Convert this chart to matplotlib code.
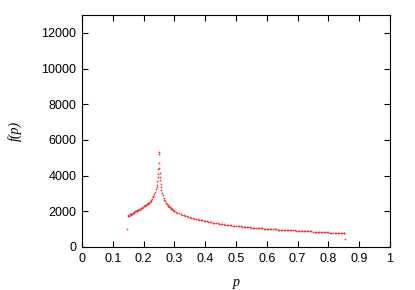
import matplotlib
matplotlib.use("Agg")
import matplotlib.pyplot as plt

p = [0.148, 0.150, 0.152, 0.155, 0.158, 0.160, 0.163, 0.165, 0.168, 0.170, 0.173, 0.175,
     0.178, 0.180, 0.183, 0.185, 0.188, 0.190, 0.193, 0.195, 0.198, 0.200, 0.203, 0.205,
     0.208, 0.210, 0.213, 0.215, 0.218, 0.220, 0.223, 0.225, 0.228, 0.230, 0.232, 0.235,
     0.237, 0.240, 0.242, 0.243, 0.245, 0.246, 0.247, 0.248, 0.249, 0.250, 0.250, 0.251,
     0.252, 0.253, 0.254, 0.255, 0.257, 0.258, 0.260, 0.262, 0.265, 0.267, 0.270, 0.272,
     0.275, 0.278, 0.280, 0.283, 0.285, 0.288, 0.290, 0.293, 0.295, 0.298, 0.300, 0.305,
     0.310, 0.315, 0.320, 0.325, 0.330, 0.335, 0.340, 0.345, 0.350, 0.355, 0.360, 0.365,
     0.370, 0.375, 0.380, 0.385, 0.390, 0.395, 0.400, 0.405, 0.410, 0.415, 0.420, 0.425,
     0.430, 0.435, 0.440, 0.445, 0.450, 0.455, 0.460, 0.465, 0.470, 0.475, 0.480, 0.485,
     0.490, 0.495, 0.500, 0.505, 0.510, 0.515, 0.520, 0.525, 0.530, 0.535, 0.540, 0.545,
     0.550, 0.555, 0.560, 0.565, 0.570, 0.575, 0.580, 0.585, 0.590, 0.595, 0.600, 0.605,
     0.610, 0.615, 0.620, 0.625, 0.630, 0.635, 0.640, 0.645, 0.650, 0.655, 0.660, 0.665,
     0.670, 0.675, 0.680, 0.685, 0.690, 0.695, 0.700, 0.705, 0.710, 0.715, 0.720, 0.725,
     0.730, 0.735, 0.740, 0.745, 0.750, 0.755, 0.760, 0.765, 0.770, 0.775, 0.780, 0.785,
     0.790, 0.795, 0.800, 0.805, 0.810, 0.815, 0.820, 0.825, 0.830, 0.835, 0.840, 0.845,
     0.850, 0.852, 0.147, 0.853]
f = [1740, 1790, 1760, 1830, 1800, 1870, 1850, 1920, 1900, 1950, 1990, 2000,
     2040, 2060, 2080, 2120, 2100, 2160, 2190, 2200, 2240, 2270, 2290, 2330,
     2360, 2390, 2420, 2460, 2480, 2540, 2580, 2640, 2700, 2780, 2850, 2960,
     3080, 3250, 3380, 3500, 3700, 3900, 4100, 4350, 4700, 5350, 5200, 4400,
     4150, 3900, 3750, 3550, 3350, 3200, 3050, 2900, 2760, 2660, 2560, 2490,
     2420, 2350, 2310, 2260, 2220, 2180, 2150, 2110, 2080, 2040, 2020, 1970,
     1920, 1880, 1840, 1800, 1770, 1740, 1710, 1690, 1660, 1630, 1610, 1590,
     1570, 1550, 1530, 1510, 1490, 1470, 1455, 1430, 1420, 1400, 1390, 1370,
     1360, 1340, 1330, 1310, 1300, 1290, 1280, 1260, 1250, 1240, 1230, 1210,
     1200, 1190, 1180, 1170, 1160, 1150, 1140, 1130, 1125, 1115, 1110, 1100,
     1090, 1085, 1080, 1070, 1060, 1055, 1050, 1040, 1035, 1030, 1025, 1015,
     1010, 1005, 1000, 990, 985, 980, 975, 970, 965, 960, 955, 950,
     945, 940, 935, 930, 925, 920, 915, 910, 905, 900, 895, 890,
     885, 880, 875, 870, 865, 860, 855, 850, 845, 840, 835, 830,
     825, 820, 815, 810, 805, 800, 800, 795, 790, 785, 780, 775,
     765, 760, 990, 440]

x_ticks = [0, 0.1, 0.2, 0.3, 0.4, 0.5, 0.6, 0.7, 0.8, 0.9, 1]
x_labels = ["0", "0.1", "0.2", "0.3", "0.4", "0.5", "0.6", "0.7", "0.8", "0.9", "1"]
y_ticks = [0, 2000, 4000, 6000, 8000, 10000, 12000]

plt.rcParams['font.family'] = ['Liberation Sans', 'DejaVu Sans']
fig = plt.figure(figsize=(4.15, 2.9), dpi=100)
ax = fig.add_axes([0.1976, 0.1483, 0.7422, 0.7997])

ax.plot(p, f, linestyle='none', marker='o', markersize=1.3, markeredgewidth=0,
        color='red', alpha=0.8)

ax.set_xlim(0, 1)
ax.set_ylim(0, 13000)
ax.set_xticks(x_ticks)
ax.set_xticklabels(x_labels)
ax.set_yticks(y_ticks)
ax.tick_params(direction='in', top=True, right=True, length=4, width=0.8,
               labelsize=9, pad=4)
for s in ax.spines.values():
    s.set_linewidth(0.8)

ax.set_xlabel("p", fontsize=10, family='Liberation Serif', style='italic', labelpad=8)
ax.set_ylabel("f(p)", fontsize=10, family='Liberation Serif', style='italic', labelpad=14)

fig.savefig("out.png", dpi=100)
